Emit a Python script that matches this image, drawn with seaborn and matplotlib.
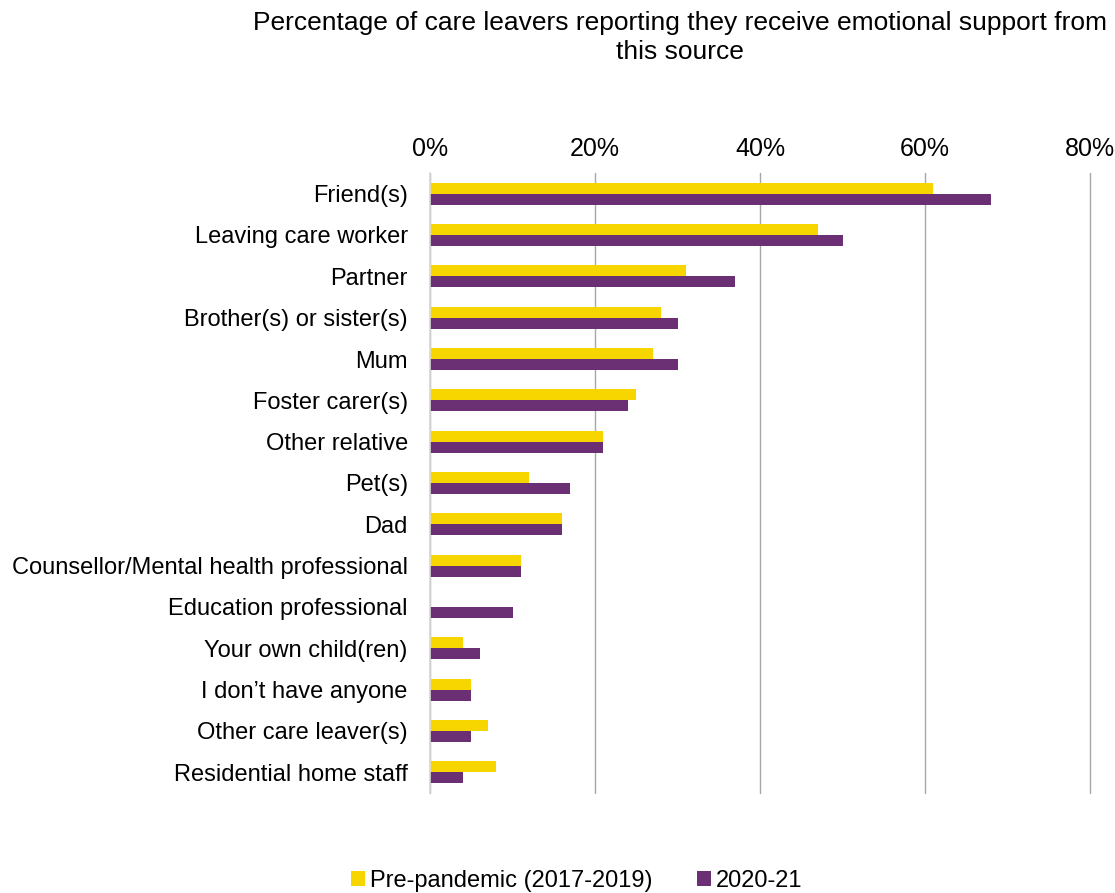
import matplotlib
matplotlib.use("Agg")
import matplotlib.pyplot as plt
import seaborn as sns
import pandas as pd
from matplotlib.ticker import FuncFormatter
from matplotlib.patches import Patch

categories = [
    "Friend(s)", "Leaving care worker", "Partner", "Brother(s) or sister(s)", "Mum",
    "Foster carer(s)", "Other relative", "Pet(s)", "Dad",
    "Counsellor/Mental health professional", "Education professional",
    "Your own child(ren)", "I don\u2019t have anyone", "Other care leaver(s)",
    "Residential home staff",
]
pre_pandemic = [61, 47, 31, 28, 27, 25, 21, 12, 16, 11, 0, 4, 5, 7, 8]
year_2020_21 = [68, 50, 37, 30, 30, 24, 21, 17, 16, 11, 10, 6, 5, 5, 4]
series_names = ["Pre-pandemic (2017-2019)", "2020-21"]
x_ticks = [0, 20, 40, 60, 80]

colors = ["#F7D600", "#6B2F73"]

df = pd.DataFrame({
    "source": categories * 2,
    "pct": pre_pandemic + year_2020_21,
    "period": [series_names[0]] * len(categories) + [series_names[1]] * len(categories),
})

sns.set_theme(style="white")
plt.rcParams["font.family"] = ["Liberation Sans", "DejaVu Sans"]
plt.rcParams["text.color"] = "black"

fig = plt.figure(figsize=(11.15, 8.93), dpi=100)
ax = fig.add_axes([430 / 1115, 1 - 793 / 893, 660 / 1115, 620 / 893])

sns.barplot(data=df, y="source", x="pct", hue="period", order=categories,
            hue_order=series_names, palette=colors, saturation=1, orient="h",
            width=0.54, dodge=True, ax=ax, legend=False, edgecolor="none")

ax.set_xlim(0, 80)
ax.set_xticks(x_ticks)
ax.xaxis.set_major_formatter(FuncFormatter(lambda v, p: f"{v:.0f}%"))
ax.xaxis.tick_top()
ax.tick_params(axis="x", length=0, pad=9, labelsize=18, colors="black")
ax.tick_params(axis="y", length=0, pad=16, labelsize=17, colors="black")
ax.set_xlabel("")
ax.set_ylabel("")
ax.grid(axis="x", color="#A6A6A6", linewidth=1)
for gl in ax.get_xgridlines():
    gl.set_clip_on(False)
ax.set_axisbelow(True)
for side in ["top", "right", "bottom"]:
    ax.spines[side].set_visible(False)
ax.spines["left"].set_color("#D9D9D9")
ax.spines["left"].set_linewidth(1.2)

fig.text(0.61, 0.988, "Percentage of care leavers reporting they receive emotional support from\nthis source",
         ha="center", va="top", fontsize=19, linespacing=1.28, color="black")

handles = [Patch(facecolor=c, edgecolor="none") for c in colors]
fig.legend(handles, series_names, loc="lower center", bbox_to_anchor=(0.517, -0.023),
           ncol=2, frameon=False, fontsize=17, handlelength=0.6, handleheight=0.6,
           handletextpad=0.2, columnspacing=1.9, labelcolor="black")

fig.savefig("out.png", dpi=100)
